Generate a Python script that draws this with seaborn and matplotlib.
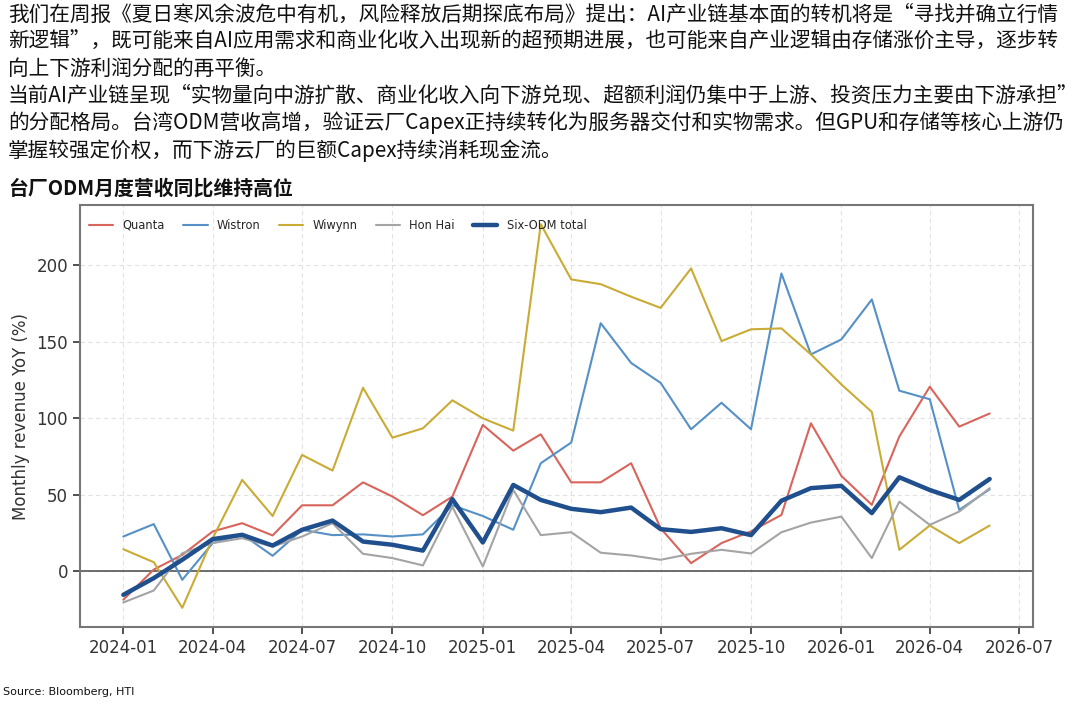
import matplotlib

matplotlib.use("Agg")
import matplotlib.dates as mdates
import matplotlib.pyplot as plt
import pandas as pd
import seaborn as sns

# monthly revenue YoY (%)
months = pd.date_range("2024-01-01", "2026-06-01", freq="MS")

quanta = [-18.7, 1, 10.6, 25.9, 31.3, 23.3, 43, 43, 58, 48.7, 36.5, 48.7,
          95.5, 78.7, 89.4, 58, 58, 70.5, 28, 5.2, 18.3, 26, 36.7, 96.6,
          62.2, 43.3, 87.9, 120.5, 94.4, 103]
wistron = [22.6, 30.7, -5.7, 18.3, 24, 10, 27, 23.5, 24, 22.6, 24, 43,
           36, 27, 70.5, 84, 162, 136, 123, 92.7, 110, 92.7, 194.5, 141.6,
           151.4, 177.5, 117.9, 112.3, 40, 53.5]
wiwynn = [14.3, 5.8, -24, 21.5, 59.6, 36, 75.9, 65.7, 119.8, 87.2, 93.3, 111.6,
          99.8, 91.8, 226.7, 190.6, 187.5, 179.3, 172, 197.8, 150.3, 158, 158.6, 141.6,
          122, 104, 13.9, 29.8, 18.3, 29.8]
hon_hai = [-20.5, -12.7, 11.7, 18.3, 21.5, 16, 22.6, 31.3, 11.3, 8.5, 3.7, 42,
           3, 53, 23.5, 25.4, 12, 10.2, 7.4, 11.3, 13.9, 11.5, 25.4, 31.7,
           35.6, 8.5, 45.4, 30.2, 38.9, 54.2]
six_odm = [-15.5, -4.6, 7.4, 20.9, 23.7, 16.7, 27, 33, 19.3, 17.2, 13.4, 47,
           18.7, 56.3, 46.5, 40.7, 38.5, 41.5, 27.4, 25.6, 28, 23.5, 46, 54.2,
           55.7, 37.9, 61.3, 53, 46.5, 60.2]

series_names = ["Quanta", "Wistron", "Wiwynn", "Hon Hai", "Six-ODM total"]
series_values = [quanta, wistron, wiwynn, hon_hai, six_odm]
colors = ["#d9645c", "#5590c6", "#c9ab35", "#a4a4a4", "#1f4f8c"]
widths = [1.5, 1.5, 1.5, 1.5, 3.2]

df = pd.concat(
    [pd.DataFrame({"month": months, "yoy": v, "series": n})
     for n, v in zip(series_names, series_values)],
    ignore_index=True,
)

text_lines = [
    "我们在周报《夏日寒风余波危中有机，风险释放后期探底布局》提出：AI产业链基本面的转机将是“寻找并确立行情",
    "新逻辑”，既可能来自AI应用需求和商业化收入出现新的超预期进展，也可能来自产业逻辑由存储涨价主导，逐步转",
    "向上下游利润分配的再平衡。",
    "当前AI产业链呈现“实物量向中游扩散、商业化收入向下游兑现、超额利润仍集中于上游、投资压力主要由下游承担”",
    "的分配格局。台湾ODM营收高增，验证云厂Capex正持续转化为服务器交付和实物需求。但GPU和存储等核心上游仍",
    "掌握较强定价权，而下游云厂的巨额Capex持续消耗现金流。",
]
subtitle = "台厂ODM月度营收同比维持高位"
source = "Source: Bloomberg, HTI"

sns.set_style("white")
plt.rcParams["font.family"] = ["DejaVu Sans"]
cjk = ["Noto Sans CJK SC", "DejaVu Sans"]

W, H = 1080, 704
fig = plt.figure(figsize=(W / 100, H / 100), dpi=100)
ax = fig.add_axes([80 / W, 1 - 627 / H, (1033 - 80) / W, (627 - 205) / H])

ax.axhline(0, color="#555555", linewidth=1.2, zorder=1)
for name, color, lw in zip(series_names, colors, widths):
    sns.lineplot(
        data=df[df["series"] == name], x="month", y="yoy",
        color=color, linewidth=lw, label=name, ax=ax, zorder=3,
    )

ax.xaxis.set_major_locator(mdates.MonthLocator(bymonth=[1, 4, 7, 10]))
ax.xaxis.set_major_formatter(mdates.DateFormatter("%Y-%m"))
ax.set_yticks([0, 50, 100, 150, 200])
ax.grid(True, linestyle=(0, (4, 3)), color="#e2e2e2", linewidth=0.8, zorder=0)
ax.tick_params(axis="both", labelsize=12, colors="#333333", length=5,
               width=1.2, direction="out", bottom=True, left=True)
for sp in ax.spines.values():
    sp.set_color("#777777")
    sp.set_linewidth(1.5)

ax.set_xlabel("")
ax.set_ylabel("Monthly revenue YoY (%)", fontsize=12, color="#333333", labelpad=5)

ax.legend(loc="upper left", ncol=5, frameon=False, fontsize=8.3,
          bbox_to_anchor=(-0.005, 1.0), borderaxespad=0.8, columnspacing=1.6,
          handlelength=2.1, handletextpad=0.8)

line_y = [15, 42, 69, 96, 123, 151]
for txt, yy in zip(text_lines, line_y):
    fig.text(8 / W, 1 - yy / H, txt, fontsize=14.9, family=cjk,
             va="center", ha="left", color="#111111")
fig.text(8 / W, 1 - 188 / H, subtitle, fontsize=14.3, family=cjk,
         fontweight="bold", va="center", ha="left", color="#111111")
fig.text(3 / W, 1 - 692 / H, source, fontsize=8, va="center", ha="left",
         color="#111111")

fig.savefig("out.png", dpi=100)
